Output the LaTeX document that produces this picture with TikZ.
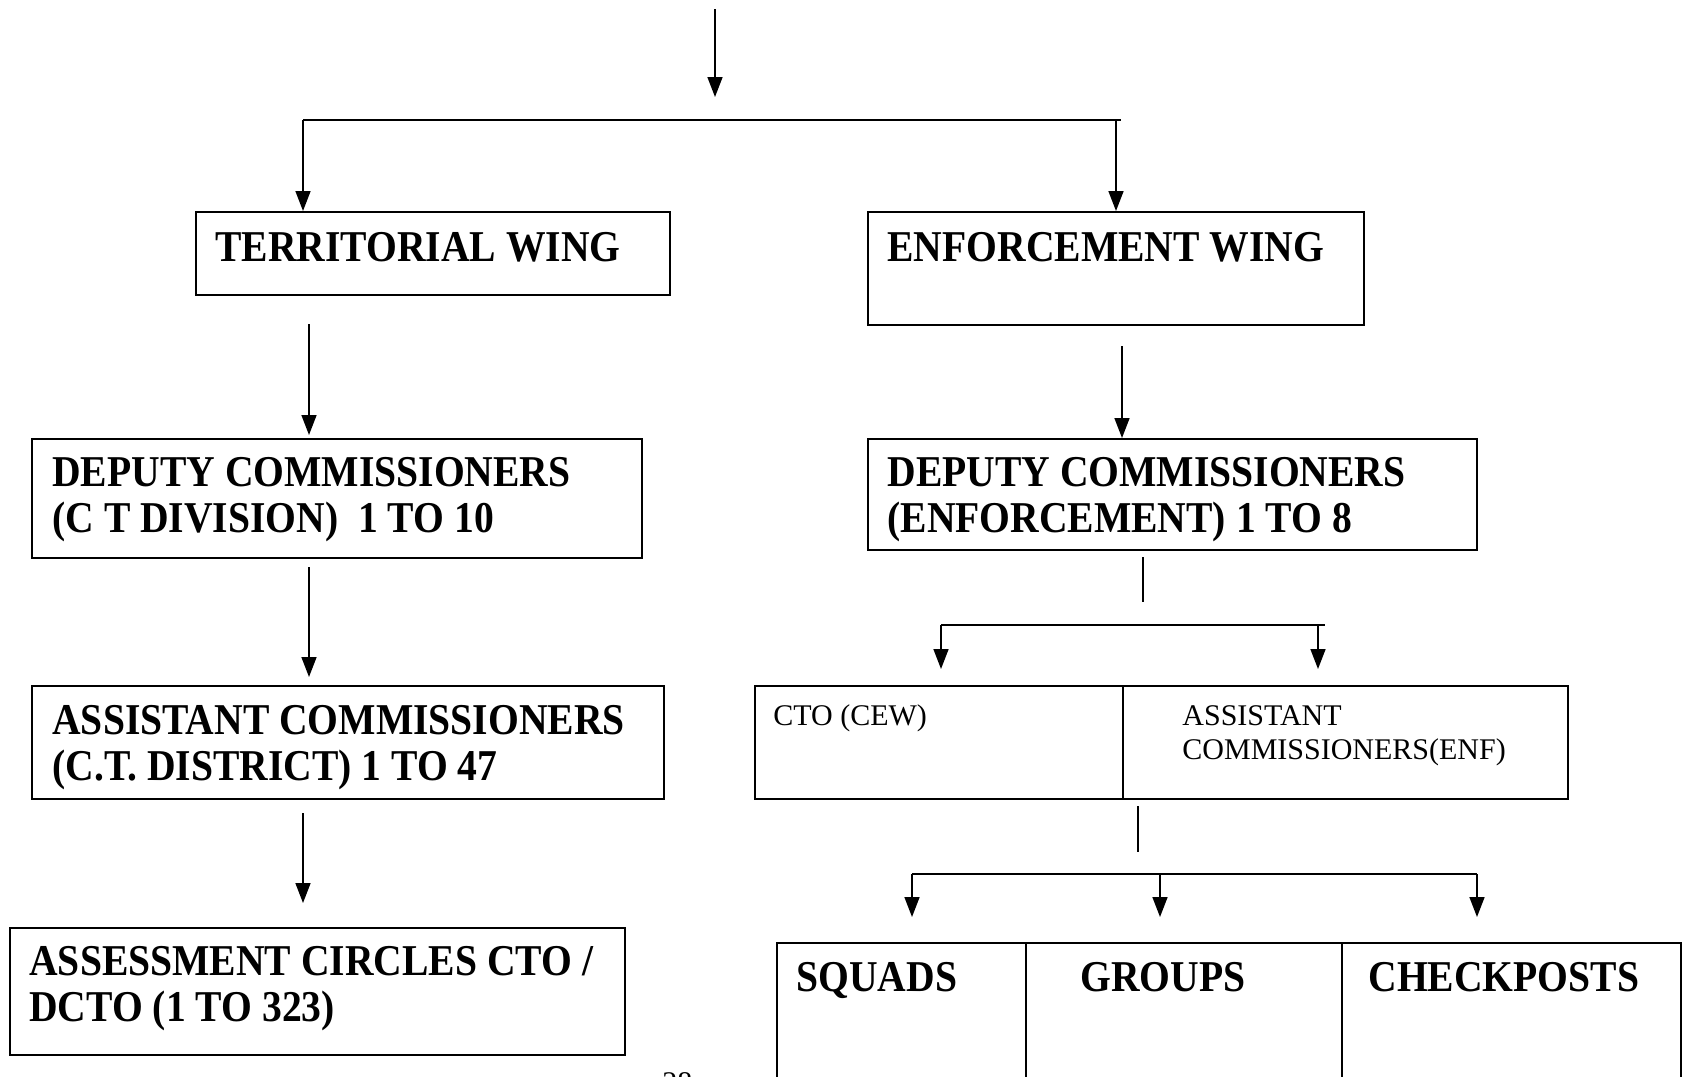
\documentclass[tikz,border=0pt]{standalone}
\usepackage{fontspec}
\setmainfont{Liberation Serif}
\newfontfamily\condserif[FakeStretch=0.9]{Liberation Serif}
\usepackage{tikz}
\usetikzlibrary{arrows.meta}

\tikzset{
    orgbox/.style={draw, line width=1pt, inner sep=0pt, anchor=north west},
    bigtext/.style={anchor=base west, inner sep=0pt, align=left,
        font=\condserif\bfseries\fontsize{22}{23}\selectfont},
    smalltext/.style={anchor=base west, inner sep=0pt, align=left,
        font=\fontsize{15}{17}\selectfont},
    conn/.style={line width=0.8pt},
    arr/.style={conn, -{Triangle[length=10pt, width=7.5pt]}},
}

\begin{document}
\begin{tikzpicture}[x=1pt, y=-1pt]
    \useasboundingbox (0,0) rectangle (843,538);
    \clip (0,0) rectangle (843,538);

    % boxes
    \node[orgbox, minimum width=237pt, minimum height=41.5pt] (tw) at (97.5,105.5) {};
    \node[orgbox, minimum width=248pt, minimum height=56.5pt] (ew) at (433.5,105.5) {};
    \node[orgbox, minimum width=305pt, minimum height=59.5pt] (dct) at (15.5,219) {};
    \node[orgbox, minimum width=304.5pt, minimum height=55.5pt] (dce) at (433.5,219) {};
    \node[orgbox, minimum width=316pt, minimum height=56.5pt] (act) at (15.5,342.5) {};
    \node[orgbox, minimum width=184pt, minimum height=56.5pt] (cto) at (377,342.5) {};
    \node[orgbox, minimum width=222.5pt, minimum height=56.5pt] (ace) at (561,342.5) {};
    \node[orgbox, minimum width=307.5pt, minimum height=63.5pt] (asc) at (4.5,463.5) {};
    \node[orgbox, minimum width=124.5pt, minimum height=90pt] (sqd) at (388,471) {};
    \node[orgbox, minimum width=158pt, minimum height=90pt] (grp) at (512.5,471) {};
    \node[orgbox, minimum width=169.5pt, minimum height=90pt] (chk) at (670.5,471) {};

    % texts (two-line nodes sit on their last baseline)
    \node[bigtext] (twt) at (107.5,130.5) {TERRITORIAL WING};
    \node[bigtext] (ewt) at (443.5,130.5) {ENFORCEMENT WING};
    \node[bigtext] (dctt) at (26,266) {DEPUTY COMMISSIONERS\\(C T DIVISION)\ \ 1 TO 10};
    \node[bigtext] (dcet) at (443.5,266) {DEPUTY COMMISSIONERS\\(ENFORCEMENT) 1 TO 8};
    \node[bigtext] (actt) at (26,390) {ASSISTANT COMMISSIONERS\\(C.T. DISTRICT) 1 TO 47};
    \node[smalltext] (ctot) at (386.5,362.5) {CTO (CEW)};
    \node[smalltext] (acet) at (591,379.5) {ASSISTANT\\COMMISSIONERS(ENF)};
    \node[bigtext] (asct) at (14.5,510.5) {ASSESSMENT CIRCLES CTO /\\DCTO (1 TO 323)};
    \node[bigtext] (sqdt) at (398,495.5) {SQUADS};
    \node[bigtext] (grpt) at (540,495.5) {GROUPS};
    \node[bigtext] (chkt) at (684,495.5) {CHECKPOSTS};
    \node[smalltext] (page) at (331,546) {28};

    % top split
    \coordinate (c0) at (357.5,4.5);
    \coordinate (c1) at (357.5,48.5);
    \draw[arr] (c0) -- (c1);
    \coordinate (bl) at (151.5,60);
    \coordinate (bm) at (558,60);
    \coordinate (br) at (560.5,60);
    \draw[conn] (bl) -- (br);
    \draw[arr] (bl) -- (bl |- tw.north);
    \draw[arr] (bm) -- (bm |- ew.north);

    % territorial side
    \coordinate (t1) at (154.5,162);
    \coordinate (t2) at (154.5,217.5);
    \draw[arr] (t1) -- (t2);
    \coordinate (t3) at (154.5,283.5);
    \coordinate (t4) at (154.5,338.5);
    \draw[arr] (t3) -- (t4);
    \coordinate (t5) at (151.5,406.5);
    \coordinate (t6) at (151.5,451.5);
    \draw[arr] (t5) -- (t6);

    % enforcement side
    \coordinate (e1) at (561,173);
    \draw[arr] (e1) -- (e1 |- dce.north);
    \coordinate (e2) at (571.5,278.5);
    \coordinate (e3) at (571.5,301);
    \draw[conn] (e2) -- (e3);
    \coordinate (e4) at (470.5,312.5);
    \coordinate (e5) at (659,312.5);
    \coordinate (e6) at (662.5,312.5);
    \draw[conn] (e4) -- (e6);
    \draw[arr] (e4) -- (470.5,334.5);
    \draw[arr] (e5) -- (659,334.5);
    \coordinate (e7) at (569,403);
    \coordinate (e8) at (569,426);
    \draw[conn] (e7) -- (e8);
    \coordinate (f1) at (456,437);
    \coordinate (f2) at (580,437);
    \coordinate (f3) at (738.5,437);
    \draw[conn] (f1) -- (f3);
    \foreach \p in {f1,f2,f3}
        \draw[arr] (\p) -- ++(0,21.5);
\end{tikzpicture}
\end{document}
